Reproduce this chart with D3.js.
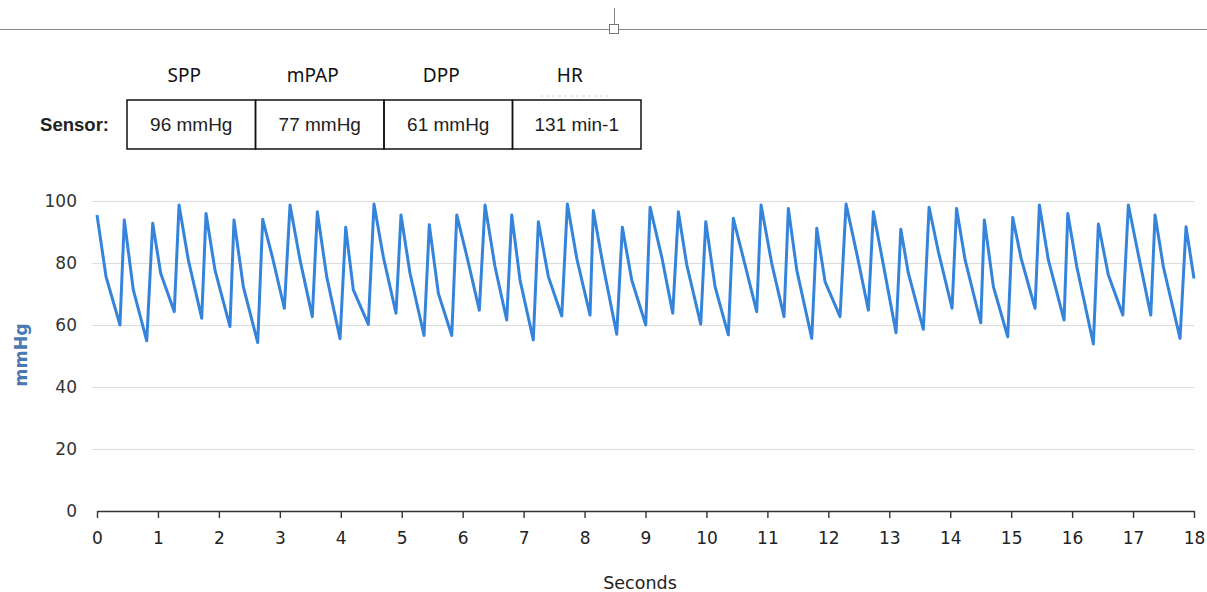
<!DOCTYPE html>
<html>
<head>
<meta charset="utf-8">
<script src="https://cdn.jsdelivr.net/npm/d3@7"></script>
<style>
  body { margin: 0; background: #fff; }
  svg { display: block; }
</style>
</head>
<body>
<div id="chart"></div>
<script>
// table content
var headers = ["SPP", "mPAP", "DPP", "HR"];
var sensorValues = ["96 mmHg", "77 mmHg", "61 mmHg", "131 min-1"];

// axis ticks
var xTicks = [0,1,2,3,4,5,6,7,8,9,10,11,12,13,14,15,16,17,18];
var yTicks = [0, 20, 40, 60, 80, 100];

// pressure trace (peak / notch / trough per beat)
var timeSec = [0, 0.148, 0.377, 0.448, 0.596, 0.816, 0.914, 1.045, 1.268, 1.346, 1.498, 1.718,
  1.789, 1.936, 2.182, 2.248, 2.401, 2.637, 2.719, 2.883, 3.074, 3.167, 3.331, 3.533,
  3.615, 3.769, 3.988, 4.081, 4.206, 4.452, 4.545, 4.698, 4.906, 4.988, 5.136, 5.366,
  5.453, 5.601, 5.821, 5.903, 6.077, 6.273, 6.367, 6.531, 6.723, 6.805, 6.941, 7.159,
  7.242, 7.406, 7.626, 7.718, 7.872, 8.090, 8.144, 8.308, 8.528, 8.620, 8.774, 9.004,
  9.075, 9.266, 9.447, 9.539, 9.677, 9.906, 9.989, 10.141, 10.359, 10.441, 10.633, 10.825,
  10.896, 11.071, 11.273, 11.344, 11.482, 11.728, 11.810, 11.946, 12.192, 12.291, 12.466, 12.657,
  12.739, 12.903, 13.111, 13.189, 13.313, 13.559, 13.653, 13.805, 14.030, 14.104, 14.244, 14.501,
  14.560, 14.708, 14.944, 15.026, 15.163, 15.392, 15.463, 15.610, 15.868, 15.929, 16.077, 16.349,
  16.431, 16.595, 16.832, 16.923, 17.088, 17.291, 17.361, 17.497, 17.771, 17.869, 18.0];
var pressure = [95.5, 75.6, 60.0, 93.9, 71.3, 54.9, 92.8, 76.7, 64.3, 98.7, 81.0, 62.2,
  96.0, 77.7, 59.5, 93.9, 72.4, 54.3, 94.1, 81.5, 65.4, 98.7, 81.0, 62.7,
  96.5, 75.6, 55.6, 91.5, 71.3, 60.2, 99.0, 82.0, 63.8, 95.5, 76.7, 56.6,
  92.3, 70.2, 56.6, 95.5, 81.5, 64.8, 98.7, 78.8, 61.6, 95.5, 74.5, 55.2,
  93.3, 75.6, 62.9, 99.0, 81.5, 63.2, 96.9, 78.8, 57.0, 91.5, 74.5, 60.0,
  98.0, 82.0, 63.8, 96.5, 79.4, 60.3, 93.3, 72.4, 56.8, 94.4, 79.4, 64.3,
  98.7, 79.9, 62.7, 97.6, 77.7, 55.7, 91.2, 74.0, 62.7, 99.0, 83.1, 64.8,
  96.5, 79.4, 57.5, 90.9, 76.7, 58.6, 98.0, 83.7, 65.4, 97.6, 81.0, 60.7,
  93.9, 72.4, 56.2, 94.7, 81.5, 65.4, 98.7, 81.0, 61.6, 96.0, 78.8, 53.9,
  92.6, 76.1, 63.2, 98.7, 82.6, 63.2, 95.5, 78.8, 55.7, 91.7, 75.0];

var W = 1207, H = 592;
var margin = {top: 201, right: 13, bottom: 81, left: 97},
    width = W - margin.left - margin.right,
    height = H - margin.top - margin.bottom;

var svg = d3.select("#chart")
  .append("svg")
    .attr("width", W)
    .attr("height", H);

// ruler line across the top
svg.append("line")
    .attr("x1", 0).attr("x2", W)
    .attr("y1", 29.5).attr("y2", 29.5)
    .attr("stroke", "#8a8a8a")
    .attr("stroke-width", 1);
svg.append("line")
    .attr("x1", 614.5).attr("x2", 614.5)
    .attr("y1", 8).attr("y2", 25)
    .attr("stroke", "#8a8a8a");
svg.append("rect")
    .attr("x", 609.5).attr("y", 24.5)
    .attr("width", 9).attr("height", 9)
    .attr("fill", "#fff")
    .attr("stroke", "#777");

// sensor table
var cellX = d3.scaleBand()
    .domain(d3.range(headers.length))
    .range([127, 641]);

var table = svg.append("g");

table.selectAll(".hdr")
  .data(headers)
  .enter()
  .append("text")
    .attr("class", "hdr")
    .attr("x", function(d, i) { return cellX(i) + cellX.bandwidth() / 2 - 7; })
    .attr("y", 82)
    .attr("text-anchor", "middle")
    .attr("font-family", "'Noto Sans', sans-serif")
    .attr("font-size", "19px")
    .attr("fill", "#111")
    .text(function(d) { return d; });

table.selectAll("rect")
  .data(sensorValues)
  .enter()
  .append("rect")
    .attr("x", function(d, i) { return cellX(i); })
    .attr("y", 100)
    .attr("width", cellX.bandwidth())
    .attr("height", 49)
    .attr("fill", "none")
    .attr("stroke", "#111")
    .attr("stroke-width", 1.5);

table.selectAll(".val")
  .data(sensorValues)
  .enter()
  .append("text")
    .attr("class", "val")
    .attr("x", function(d, i) { return cellX(i) + cellX.bandwidth() / 2; })
    .attr("y", 131)
    .attr("text-anchor", "middle")
    .attr("font-family", "'Liberation Sans', Arial, sans-serif")
    .attr("font-size", "19px")
    .attr("fill", "#222")
    .text(function(d) { return d; });

table.append("text")
    .attr("x", 109)
    .attr("y", 131)
    .attr("text-anchor", "end")
    .attr("font-family", "'Liberation Sans', Arial, sans-serif")
    .attr("font-weight", "bold")
    .attr("font-size", "18.5px")
    .attr("fill", "#222")
    .text("Sensor:");

// faint dotted mark under HR
table.append("line")
    .attr("x1", 540).attr("x2", 612)
    .attr("y1", 96).attr("y2", 96)
    .attr("stroke", "#d8d8d8")
    .attr("stroke-dasharray", "3,3");

// chart
var g = svg.append("g")
    .attr("transform", "translate(" + margin.left + "," + margin.top + ")");

var x = d3.scaleLinear().domain([0, 18]).range([0, width]);
var y = d3.scaleLinear().domain([0, 100]).range([height, 0]);

// gridlines + y labels
var yAxis = g.append("g")
    .call(d3.axisLeft(y).tickValues(yTicks).tickSize(0).tickPadding(20));
yAxis.select(".domain").remove();
yAxis.selectAll(".tick line")
    .attr("x1", -5)
    .attr("x2", width)
    .attr("stroke", "#dcdcdc")
    .attr("stroke-width", 1.2)
    .attr("display", function(d) { return d === 0 ? "none" : null; });
yAxis.selectAll(".tick text")
    .attr("font-family", "'DejaVu Sans', Verdana, sans-serif")
    .attr("font-size", "17px")
    .attr("fill", "#333");

// x axis
var xAxis = g.append("g")
    .attr("transform", "translate(0," + height + ")")
    .call(d3.axisBottom(x).tickValues(xTicks).tickSizeInner(7).tickSizeOuter(0).tickPadding(14)
      .tickFormat(d3.format("d")));
xAxis.select(".domain")
    .attr("stroke", "#333")
    .attr("stroke-width", 1.6);
xAxis.selectAll(".tick line")
    .attr("stroke", "#333")
    .attr("stroke-width", 1.4);
xAxis.selectAll(".tick text")
    .attr("font-family", "'DejaVu Sans', Verdana, sans-serif")
    .attr("font-size", "17px")
    .attr("fill", "#222");

// axis titles
svg.append("text")
    .attr("x", 640)
    .attr("y", 589)
    .attr("text-anchor", "middle")
    .attr("font-family", "'DejaVu Sans', Verdana, sans-serif")
    .attr("font-size", "17.5px")
    .attr("fill", "#222")
    .text("Seconds");

svg.append("text")
    .attr("transform", "rotate(-90)")
    .attr("x", -355)
    .attr("y", 27)
    .attr("text-anchor", "middle")
    .attr("font-family", "'DejaVu Sans', Verdana, sans-serif")
    .attr("font-weight", "bold")
    .attr("font-size", "17.5px")
    .attr("fill", "#4a78b2")
    .text("mmHg");

// trace
var points = timeSec.map(function(t, i) { return [t, pressure[i]]; });

var line = d3.line()
    .x(function(d) { return x(d[0]); })
    .y(function(d) { return y(d[1]); });

g.append("path")
    .datum(points)
    .attr("fill", "none")
    .attr("stroke", "#3584dc")
    .attr("stroke-width", 3)
    .attr("stroke-linejoin", "round")
    .attr("d", line);
</script>
</body>
</html>
